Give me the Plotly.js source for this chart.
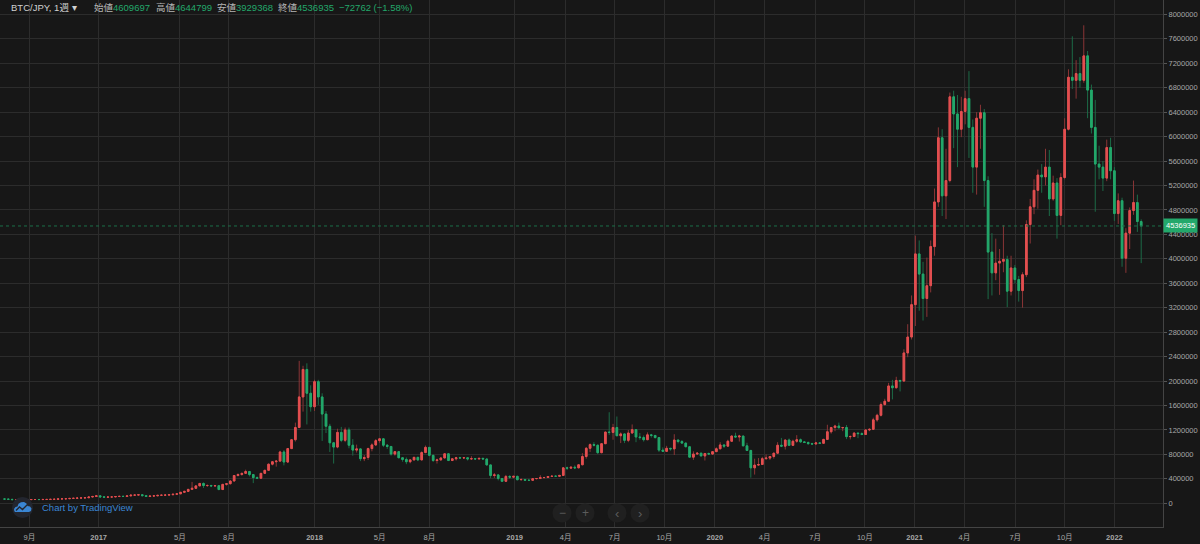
<!DOCTYPE html>
<html><head><meta charset="utf-8">
<script src="https://cdn.plot.ly/plotly-3.0.1.min.js"></script>
<style>html,body{margin:0;padding:0;background:#171717;overflow:hidden}#chart{width:1200px;height:544px}</style>
</head><body><div id="chart"></div>
<script>
// Weekly BTC/JPY candles, values in thousands of JPY
const symbolName = 'BTC/JPY, 1週 ▾';
const unitJPY = 1000;
const openK = [70,69,65,60,61,60,59,60,62,62, 61,63,63,65,66,72,73,75,80,82, 86,88,91,103,112,122,105,100,103,104,
111,114,112,121,133,135,140,125,112,118, 122,130,133,135,140,148,155,180,195,228, 245,285,325,290,292,285,288,225,310,320,
365,455,470,490,520,470,420,410,490,540, 640,680,690,840,675,895,1040,1240,1740,2190, 1800,1580,1990,1740,1460,1260,990,920,1160,1030,
1200,950,870,890,730,750,895,955,1025,1055, 950,930,805,845,745,718,680,710,752,710, 830,915,785,700,710,742,810,700,728,745,
742,745,725,730,725,735,725,628,455,465, 405,360,440,428,441,385,390,378,376,403, 405,420,422,438,444,442,456,580,575,590,
580,630,765,900,960,950,828,975,1165,1160, 1240,1105,1135,1030,1150,1205,1085,1075,1040,1120, 1110,1075,870,850,900,890,1035,1010,985,925,
755,805,820,775,815,805,845,892,955,935, 1015,1100,1085,1100,940,865,580,625,635,730, 740,765,820,950,935,1035,948,1015,1040,1005,
995,975,970,988,982,1045,1170,1240,1265,1235, 1240,1090,1092,1148,1140,1125,1200,1210,1365,1440, 1615,1670,1920,1890,2010,2000,2460,2720,3250,4080,
3750,3350,3560,4200,4930,5980,5030,5280,6650,6370, 6120,6410,6620,6150,5500,6300,6390,5280,4110,3770, 3930,3960,3990,3470,3850,3660,3480,3740,4560,4850,
5120,5370,5340,5500,4980,5240,4710,5330,6120,6970, 6920,7030,6920,7320,6760,6150,5550,5500,5320,5820, 5440,4740,4950,4010,4420,4790,4920,4609.697];
const highK = [72,70,66,62,62,61,61,63,63,63, 63,64,66,67,73,76,76,82,83,87, 90,92,104,115,128,135,110,106,108,112,
116,118,122,135,138,148,142,128,122,124, 132,135,138,142,150,158,185,200,230,350, 290,330,340,305,300,300,290,315,325,370,
460,490,500,550,530,480,440,495,545,650, 690,700,860,870,900,1050,1320,2330,2250,2290, 1930,2020,2020,1800,1510,1300,1000,1220,1250,1240,
1240,1050,960,900,790,910,980,1050,1070,1065, 970,935,850,855,750,750,718,760,760,850, 945,920,795,730,745,815,820,730,760,760,
755,750,770,735,740,745,730,630,495,470, 410,465,460,445,450,405,395,380,405,410, 460,432,440,448,450,460,590,600,600,620,
640,820,920,980,1000,960,980,1170,1490,1300, 1420,1160,1140,1200,1290,1210,1150,1110,1160,1135, 1118,1085,915,940,905,1130,1040,1035,990,930,
850,830,825,820,830,850,915,1000,960,1040, 1110,1155,1120,1105,990,870,730,740,760,800, 770,825,1000,1070,1040,1060,1040,1115,1060,1020,
1010,990,1005,995,1055,1285,1250,1285,1320,1250, 1280,1110,1165,1160,1160,1205,1225,1400,1465,1650, 1710,1970,2020,2070,2020,2520,2930,3400,4380,4300,
3950,4020,4300,5150,6150,6120,5800,6720,6750,6680, 6650,6750,7070,6280,6400,6520,6450,5350,4420,4330, 4160,4550,4050,4050,3900,3720,3780,4630,4980,5300,
5460,5550,5800,5780,5360,5320,5400,6300,7100,7640, 7250,7300,7820,7400,6850,6600,5850,5600,5950,5980, 5500,5070,5000,4500,4840,5280,5050,4644.799];
const lowK = [67,64,52,59,59,58,58,59,61,61, 61,62,63,64,66,70,71,74,78,81, 84,87,90,100,110,95,88,97,100,103,
109,111,110,120,125,130,120,103,110,115, 120,127,130,133,138,145,152,175,190,220, 235,283,250,270,265,280,215,222,290,310,
360,440,455,485,440,330,400,405,480,535, 620,600,680,620,660,890,1010,1230,1500,1290, 1500,1510,1610,1020,1150,840,650,900,1000,1000,
900,780,830,690,690,710,850,940,990,920, 890,780,780,740,680,640,655,700,690,705, 820,770,675,650,700,735,690,690,700,725,
735,700,720,720,720,720,620,410,415,375, 355,355,400,410,380,380,375,370,372,395, 403,410,415,430,435,435,455,545,565,560,
575,625,730,840,930,810,820,970,1120,1040, 1100,985,985,1000,1140,1000,1040,1010,1035,1075, 1060,840,840,845,860,790,980,975,920,745,
710,800,770,700,790,790,840,885,905,930, 1010,1080,1010,935,860,420,470,610,630,715, 710,730,815,920,880,945,940,990,990,990,
960,965,965,970,980,1040,1140,1180,1230,1180, 1050,1045,1085,1065,1115,1120,1180,1200,1335,1420, 1600,1660,1700,1880,1830,1990,2390,2680,2900,3150,
2990,3050,3450,4050,4850,4700,4650,5250,5810,5500, 5990,6200,5650,5080,5050,5800,4850,3340,3400,3650, 3410,3780,3210,3400,3600,3300,3200,3700,4250,4730,
4820,5080,5200,4700,4950,4330,4550,5300,6100,6780, 6620,6800,6880,6300,6050,4770,5300,5110,5270,5300, 4620,4570,3870,3770,4160,4720,4440,3929.368];
const closeK = [69,65,60,61,60,59,60,62,62,61, 63,63,65,66,72,73,75,80,82,86, 88,91,103,112,122,105,100,103,104,111,
114,112,121,133,135,140,125,112,118,122, 130,133,135,140,148,155,180,195,228,245, 285,325,290,292,285,288,225,310,320,365,
455,470,490,520,470,420,410,490,540,640, 680,690,840,675,895,1040,1240,1740,2190,1800, 1580,1990,1740,1460,1260,990,920,1160,1030,1200,
950,870,890,730,750,895,955,1025,1055,950, 930,805,845,745,718,680,710,752,710,830, 915,785,700,710,742,810,700,728,745,742,
745,725,730,725,735,725,628,455,465,405, 360,440,428,441,385,390,378,376,403,405, 420,422,438,444,442,456,580,575,590,580,
630,765,900,960,950,828,975,1165,1160,1240, 1105,1135,1030,1150,1205,1085,1075,1040,1120,1110, 1075,870,850,900,890,1035,1010,985,925,755,
805,820,775,815,805,845,892,955,935,1015, 1100,1085,1100,940,865,580,625,635,730,740, 765,820,950,935,1035,948,1015,1040,1005,995,
975,970,988,982,1045,1170,1240,1265,1235,1240, 1090,1092,1148,1140,1125,1200,1210,1365,1440,1615, 1670,1920,1890,2010,2000,2460,2720,3250,4080,3750,
3350,3560,4200,4930,5980,5030,5280,6650,6370,6120, 6410,6620,6150,5500,6300,6390,5280,4110,3770,3930, 3960,3990,3470,3850,3660,3480,3740,4560,4850,5120,
5370,5340,5500,4980,5240,4710,5330,6120,6970,6920, 7030,6920,7320,6760,6150,5550,5500,5320,5820,5440, 4740,4950,4010,4420,4790,4920,4609.697,4536.935];

const timeTickLabels = ['9月','<b>2017</b>','5月','8月','<b>2018</b>','5月','8月','<b>2019</b>','4月','7月','10月','<b>2020</b>','4月','7月','10月','<b>2021</b>','4月','7月','10月','<b>2022</b>'];
const timeTickBars = [6.5,24.6,45.8,58.6,81,98,111,133.3,146.6,159.4,172.4,185.6,198.6,211.8,224.8,237.8,250.8,264.1,277,290];
const headerLabels = ['始値','高値','安値','終値'];

const toJPY = a => a.map(v => Math.round(v * unitJPY));
const o = toJPY(openK), h = toJPY(highK), l = toJPY(lowK), c = toJPY(closeK);
const bars = o.map((_, i) => i);
const bodyTop = o.map((v, i) => Math.max(v, c[i]));
const bodyBot = o.map((v, i) => Math.min(v, c[i]));

const BG = '#171717', GRID = '#2c2c2c', AXIS = '#444444';
const RED = '#e34f50', GREEN = '#23a86b';
const RED_W = '#8a3536', GREEN_W = '#1c6b47';
const FONT = '"Liberation Sans", "Noto Sans CJK JP", sans-serif';
const PW = 1163, PH = 527;
const px = x => x / PW, py = y => 1 - y / PH;

const wickTrace = {
  type: 'candlestick', x: bars, open: o, high: h, low: l, close: c,
  increasing: {line: {color: RED_W, width: 1}, fillcolor: RED_W},
  decreasing: {line: {color: GREEN_W, width: 1}, fillcolor: GREEN_W},
  hoverinfo: 'skip', showlegend: false
};
const bodyTrace = {
  type: 'candlestick', x: bars, open: o, high: bodyTop, low: bodyBot, close: c,
  increasing: {line: {color: RED, width: 1}, fillcolor: RED},
  decreasing: {line: {color: GREEN, width: 1}, fillcolor: GREEN},
  hoverinfo: 'skip', showlegend: false
};

const n = c.length;
const lastO = o[n-1], lastH = h[n-1], lastL = l[n-1], lastC = c[n-1];
const chg = lastC - c[n-2];
const pct = chg / c[n-2] * 100;
const fmtSigned = v => (v < 0 ? '\u2212' : '+') + Math.abs(v);
const chgText = fmtSigned(chg) + ' (' + (pct < 0 ? '\u2212' : '+') + Math.abs(pct).toFixed(2) + '%)';

const hdrY = py(8);
const span = v => '<span style="color:' + GREEN + '">' + v + '</span>';
const annotations = [
  {xref:'paper', yref:'paper', x: px(9), y: hdrY, xanchor:'left', yanchor:'middle', showarrow:false, text: symbolName, font:{family:FONT, size:9.5, color:'#d0d0d0'}},
  {xref:'paper', yref:'paper', x: px(92), y: hdrY, xanchor:'left', yanchor:'middle', showarrow:false, text: headerLabels[0] + span(lastO), font:{family:FONT, size:9.5, color:'#b4b4b4'}},
  {xref:'paper', yref:'paper', x: px(154), y: hdrY, xanchor:'left', yanchor:'middle', showarrow:false, text: headerLabels[1] + span(lastH), font:{family:FONT, size:9.5, color:'#b4b4b4'}},
  {xref:'paper', yref:'paper', x: px(215), y: hdrY, xanchor:'left', yanchor:'middle', showarrow:false, text: headerLabels[2] + span(lastL), font:{family:FONT, size:9.5, color:'#b4b4b4'}},
  {xref:'paper', yref:'paper', x: px(276), y: hdrY, xanchor:'left', yanchor:'middle', showarrow:false, text: headerLabels[3] + span(lastC), font:{family:FONT, size:9.5, color:'#b4b4b4'}},
  {xref:'paper', yref:'paper', x: px(337), y: hdrY, xanchor:'left', yanchor:'middle', showarrow:false, text: chgText, font:{family:FONT, size:9.5, color:GREEN}},
  {xref:'paper', yref:'y', x: 1, y: lastC, xanchor:'left', yanchor:'middle', showarrow:false, text: String(lastC), bgcolor: GREEN, borderpad: 2, font:{family:FONT, size:7.5, color:'#ffffff'}},
  {xref:'paper', yref:'paper', x: px(40), y: py(507), xanchor:'left', yanchor:'middle', showarrow:false, text: 'Chart by TradingView', font:{family:FONT, size:9.5, color:'#3a86d4'}},
  {xref:'paper', yref:'paper', x: px(562), y: py(513), xanchor:'center', yanchor:'middle', showarrow:false, text: '\u2212', font:{family:FONT, size:12, color:'#5c5c5c'}},
  {xref:'paper', yref:'paper', x: px(585), y: py(513), xanchor:'center', yanchor:'middle', showarrow:false, text: '+', font:{family:FONT, size:12, color:'#5c5c5c'}},
  {xref:'paper', yref:'paper', x: px(617), y: py(513), xanchor:'center', yanchor:'middle', showarrow:false, text: '\u2039', font:{family:FONT, size:13, color:'#5c5c5c'}},
  {xref:'paper', yref:'paper', x: px(640), y: py(513), xanchor:'center', yanchor:'middle', showarrow:false, text: '\u203A', font:{family:FONT, size:13, color:'#5c5c5c'}}
];

const circle = (cx, cy, r, fill) => ({type:'circle', xref:'paper', yref:'paper', x0: px(cx-r), x1: px(cx+r), y0: py(cy+r), y1: py(cy-r), fillcolor: fill, line:{width:0}, layer:'above'});
const pathFrom = pts => pts.map((p, i) => (i === 0 ? 'M ' : 'L ') + px(p[0]) + ',' + py(p[1])).join(' ') + ' Z';
const cloudPts = [[15,512],[29,512],[31,511],[31.5,508.5],[30,506.5],[27.5,506],[26.5,503.5],[24,502],[21,502.2],[18.5,503.8],[17.5,506.5],[15.5,507],[14,509],[14.3,511]];
const linePts = [[16,510.5],[19.5,507],[22.5,509.5],[27.5,504.5]];

const shapes = [
  {type:'line', xref:'paper', yref:'y', x0:0, x1:1, y0:lastC, y1:lastC, line:{color:'#1b7048', width:1, dash:'dot'}, layer:'above'},
  circle(22.5, 507.5, 10.5, '#23262f'),
  {type:'path', xref:'paper', yref:'paper', path: pathFrom(cloudPts), fillcolor:'#3a86d4', line:{width:0}, layer:'above'},
  {type:'path', xref:'paper', yref:'paper', path: linePts.map((p,i)=>(i?'L ':'M ')+px(p[0])+','+py(p[1])).join(' '), line:{color:'#23262f', width:1.4}, layer:'above'},
  circle(562, 513, 9.5, '#202020'),
  circle(585, 513, 9.5, '#202020'),
  circle(617, 513, 9.5, '#202020'),
  circle(640, 513, 9.5, '#202020')
];

const pxPerM = 61.125;
const layout = {
  width: 1200, height: 544,
  margin: {l: 0, r: 1200 - PW, t: 0, b: 544 - PH},
  paper_bgcolor: BG, plot_bgcolor: BG,
  showlegend: false, hovermode: false, boxgap: 0.4,
  font: {family: FONT, color: '#aaaaaa'},
  xaxis: {
    range: [-1.18, 302.7], tickmode: 'array', tickvals: timeTickBars, ticktext: timeTickLabels,
    showgrid: true, gridcolor: GRID, gridwidth: 1, zeroline: false,
    showline: true, linecolor: AXIS, linewidth: 1,
    ticks: 'outside', ticklen: 3, tickcolor: BG,
    tickfont: {family: FONT, size: 7.5, color: '#a8a8a8'},
    rangeslider: {visible: false}, fixedrange: true
  },
  yaxis: {
    side: 'right', range: [-(PH - 503.3) / pxPerM * 1e6, 503.3 / pxPerM * 1e6],
    tick0: 0, dtick: 400000, tickformat: 'd',
    showgrid: true, gridcolor: GRID, gridwidth: 1, zeroline: false,
    showline: true, linecolor: AXIS, linewidth: 1,
    ticks: 'outside', ticklen: 3, tickcolor: '#555555',
    tickfont: {family: FONT, size: 7.5, color: '#a8a8a8'},
    fixedrange: true
  },
  shapes: shapes,
  annotations: annotations
};

Plotly.newPlot('chart', [wickTrace, bodyTrace], layout, {displayModeBar: false, staticPlot: true});
</script>
</body></html>
